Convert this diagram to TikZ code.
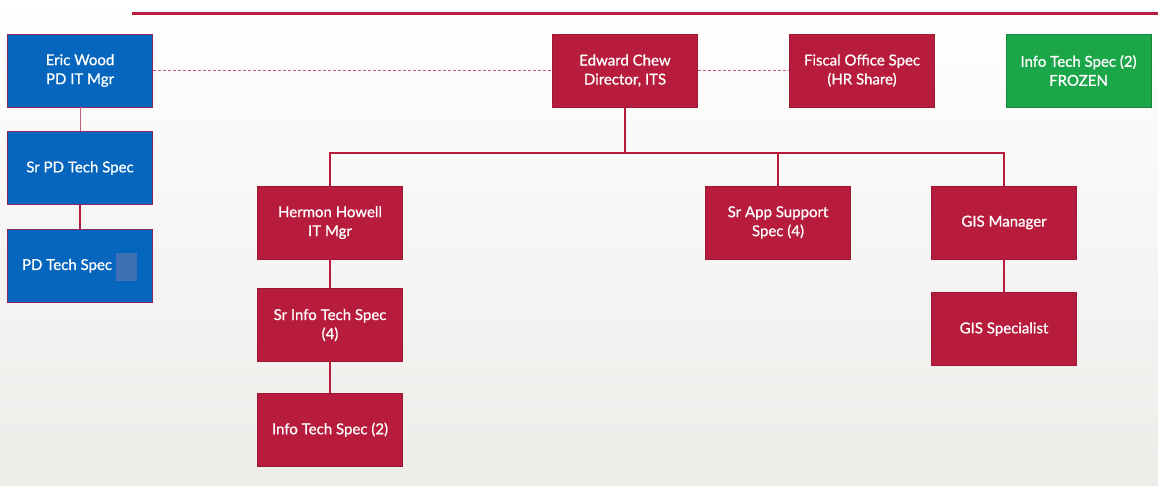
\documentclass[tikz,border=0pt]{standalone}
\usepackage{fontspec}
\setmainfont{Lato}
\newfontfamily\boxfont{Lato}[FakeBold=0.8]
\usetikzlibrary{positioning}
\definecolor{itsred}{RGB}{183,28,60}
\definecolor{pdblue}{RGB}{6,102,190}
\definecolor{pdedge}{RGB}{140,40,95}
\definecolor{frozen}{RGB}{28,166,74}
\definecolor{patch}{RGB}{62,112,182}
\definecolor{peerline}{RGB}{200,95,118}
\definecolor{bgbottom}{RGB}{238,236,233}

\begin{document}
\begin{tikzpicture}[x=1pt, y=-1pt,
        box/.style={draw=itsred!85!black, line width=0.6pt, fill=itsred, text=white,
            minimum width=145pt, minimum height=73pt, inner sep=0pt, align=center,
            font=\boxfont\fontsize{15}{19}\selectfont},
        pdbox/.style={box, fill=pdblue, draw=pdedge},
        link/.style={itsred, line width=2pt},
        peer/.style={peerline, line width=1.2pt, dash pattern=on 3pt off 2pt}]
                \shade[top color=white, bottom color=bgbottom] (0,0) rectangle (1158,485);
                \useasboundingbox (0,0) rectangle (1158,485);
                \draw[itsred, line width=3pt] (132,13) -- (1158,13);

                \node[pdbox] (wood) at (80,70.5) {Eric Wood\\PD IT Mgr};
                \node[pdbox, below=24pt of wood] (srpd) {Sr PD Tech Spec};
                \node[pdbox, below=24pt of srpd] (pdtech) {PD Tech Spec\hspace{26pt}};
                \fill[patch] (116,253) rectangle (137,281);

                \node[box] (chew) at (625,70.5) {Edward Chew\\Director, ITS};
                \node[box] (fiscal) at (862,70.5) {Fiscal Office Spec\\(HR Share)};
                \node[box, fill=frozen, draw=frozen!80!black] (frozen) at (1078.5,70.5) {Info Tech Spec (2)\\FROZEN};

                \node[box] (howell) at (330,222.5) {Hermon Howell\\IT Mgr};
                \node[box, below=29pt of howell] (srinfo) {Sr Info Tech Spec\\(4)};
                \node[box, below=31pt of srinfo] (infotech) {Info Tech Spec (2)};
                \node[box] (appspec) at (778,222.5) {Sr App Support\\Spec (4)};
                \node[box] (gismgr) at (1004,222.5) {GIS Manager};
                \node[box, below=33pt of gismgr] (gisspec) {GIS Specialist};

                \draw[peer] (wood) -- (chew);
                \draw[peer] (chew) -- (fiscal);
                \draw[peerline, line width=1pt] (wood) -- (srpd);
                \draw[link] (srpd) -- (pdtech);

                \coordinate (hub) at (625,153);
                \draw[link] (chew) -- (hub);
                \draw[link] (hub) -| (howell);
                \draw[link] (hub) -| (appspec);
                \draw[link] (hub) -| (gismgr);
                \draw[link] (howell) -- (srinfo);
                \draw[link] (srinfo) -- (infotech);
                \draw[link] (gismgr) -- (gisspec);
            \end{tikzpicture}
\end{document}
